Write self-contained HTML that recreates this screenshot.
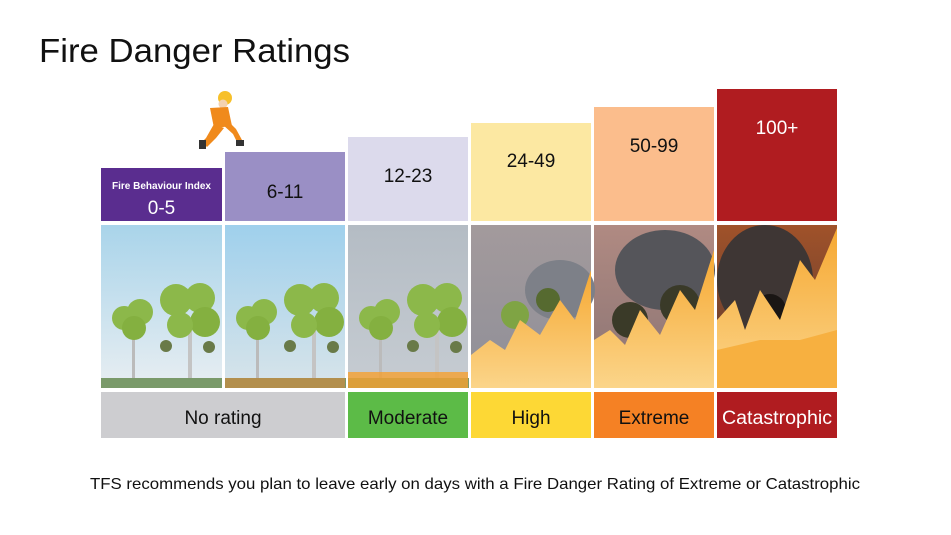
<!DOCTYPE html>
<html><head><meta charset="utf-8"><style>
html,body{margin:0;padding:0;background:#fff;width:951px;height:535px;overflow:hidden}
svg{display:block}
text{font-family:"Liberation Sans",Arial,sans-serif}
</style></head><body>
<svg width="951" height="535" viewBox="0 0 951 535" xmlns="http://www.w3.org/2000/svg">
<defs>
<linearGradient id="s1" x1="0" y1="0" x2="0" y2="1"><stop offset="0" stop-color="#a9d4ea"/><stop offset="1" stop-color="#e8eef2"/></linearGradient>
<linearGradient id="s2" x1="0" y1="0" x2="0" y2="1"><stop offset="0" stop-color="#9fd0ec"/><stop offset="1" stop-color="#d8e4ea"/></linearGradient>
<linearGradient id="s3" x1="0" y1="0" x2="0" y2="1"><stop offset="0" stop-color="#b4bcc4"/><stop offset="1" stop-color="#c6ccd2"/></linearGradient>
<linearGradient id="s4" x1="0" y1="0" x2="0" y2="1"><stop offset="0" stop-color="#a39a9c"/><stop offset="1" stop-color="#8f8f98"/></linearGradient>
<linearGradient id="s5" x1="0" y1="0" x2="0" y2="1"><stop offset="0" stop-color="#b08a82"/><stop offset="1" stop-color="#8a7474"/></linearGradient>
<linearGradient id="s6" x1="0" y1="0" x2="0" y2="1"><stop offset="0" stop-color="#a0522a"/><stop offset="1" stop-color="#5a3a30"/></linearGradient>
<linearGradient id="fire" x1="0" y1="0" x2="0" y2="1"><stop offset="0" stop-color="#f6a832"/><stop offset="1" stop-color="#fbd58a"/></linearGradient>
</defs>
<text x="39" y="62" font-size="33" fill="#111" textLength="311" lengthAdjust="spacingAndGlyphs">Fire Danger Ratings</text>

<!-- top boxes -->
<rect x="101" y="168" width="121" height="53" fill="#5a2d8f"/>
<text x="161.5" y="189" font-size="10" font-weight="bold" fill="#fff" text-anchor="middle">Fire Behaviour Index</text>
<text x="161.5" y="214" font-size="19" fill="#fff" text-anchor="middle">0-5</text>
<rect x="225" y="152" width="120" height="69" fill="#9a8fc5"/>
<text x="285" y="198" font-size="19" fill="#111" text-anchor="middle">6-11</text>
<rect x="348" y="137" width="120" height="84" fill="#dcdaec"/>
<text x="408" y="182" font-size="19" fill="#111" text-anchor="middle">12-23</text>
<rect x="471" y="123" width="120" height="98" fill="#fce8a2"/>
<text x="531" y="167" font-size="19" fill="#111" text-anchor="middle">24-49</text>
<rect x="594" y="107" width="120" height="114" fill="#fbbd8c"/>
<text x="654" y="152" font-size="19" fill="#111" text-anchor="middle">50-99</text>
<rect x="717" y="89" width="120" height="132" fill="#b01c20"/>
<text x="777" y="134" font-size="19" fill="#fff" text-anchor="middle">100+</text>

<!-- firefighter -->
<g>
<circle cx="225" cy="98" r="7" fill="#f7c02a"/>
<circle cx="223" cy="104" r="4.5" fill="#f4d2b0"/>
<path d="M210 108 L228 107 L232 126 L214 128 Z" fill="#f08a1c"/>
<path d="M214 124 L206 138 L202 142 L207 147 L216 138 L224 128 Z" fill="#f08a1c"/>
<path d="M222 124 L233 134 L237 142 L242 140 L236 129 L228 121 Z" fill="#f08a1c"/>
<rect x="199" y="140" width="7" height="9" fill="#333"/>
<rect x="236" y="140" width="8" height="6" fill="#333"/>
</g>

<!-- panels -->
<rect x="101" y="225" width="121" height="163" fill="url(#s1)"/>
<rect x="225" y="225" width="120" height="163" fill="url(#s2)"/>
<rect x="348" y="225" width="120" height="163" fill="url(#s3)"/>
<rect x="471" y="225" width="120" height="163" fill="url(#s4)"/>
<rect x="594" y="225" width="120" height="163" fill="url(#s5)"/>
<rect x="717" y="225" width="120" height="163" fill="url(#s6)"/>

<g id="trees">
<rect x="132" y="330" width="3" height="55" fill="#bbb"/>
<rect x="188" y="320" width="4" height="65" fill="#c4c4c4"/>
<circle cx="124" cy="318" r="12" fill="#8cb84a"/>
<circle cx="140" cy="312" r="13" fill="#8cb84a"/>
<circle cx="134" cy="328" r="12" fill="#84b040"/>
<circle cx="176" cy="300" r="16" fill="#8cb84a"/>
<circle cx="200" cy="298" r="15" fill="#8cb84a"/>
<circle cx="205" cy="322" r="15" fill="#84b040"/>
<circle cx="180" cy="325" r="13" fill="#8cb84a"/>
<circle cx="166" cy="346" r="6" fill="#697a48"/>
<circle cx="209" cy="347" r="6" fill="#697a48"/>
<rect x="101" y="378" width="121" height="10" fill="#7a9a6a"/>
</g>
<use href="#trees" x="124"/>
<use href="#trees" x="247"/>
<rect x="225" y="378" width="120" height="10" fill="#d8883a" opacity="0.6"/>
<rect x="348" y="372" width="120" height="16" fill="#f5a030" opacity="0.8"/>

<ellipse cx="560" cy="290" rx="35" ry="30" fill="#7d8088"/>
<circle cx="515" cy="315" r="14" fill="#7fa444"/>
<circle cx="548" cy="300" r="12" fill="#566a30"/>
<path d="M471 388 L471 355 L490 340 L505 350 L520 320 L540 335 L560 300 L575 320 L591 270 L591 388 Z" fill="url(#fire)"/>
<ellipse cx="665" cy="270" rx="50" ry="40" fill="#55555a"/>
<circle cx="630" cy="320" r="18" fill="#3a3a28"/>
<circle cx="680" cy="305" r="20" fill="#3a3a28"/>
<path d="M594 388 L594 340 L610 330 L625 345 L640 310 L660 335 L680 290 L695 310 L714 250 L714 388 Z" fill="url(#fire)"/>
<ellipse cx="765" cy="280" rx="48" ry="55" fill="#3e3634"/>
<circle cx="770" cy="310" r="16" fill="#1a1614"/>
<circle cx="805" cy="305" r="18" fill="#1a1614"/>
<path d="M717 388 L717 320 L735 300 L745 330 L760 290 L780 320 L800 260 L815 280 L837 228 L837 388 Z" fill="url(#fire)"/>
<path d="M717 388 L717 350 L760 340 L800 340 L837 330 L837 388 Z" fill="#f7b040"/>

<rect x="101" y="392" width="244" height="46" fill="#cdcdd0"/>
<text x="223" y="424" font-size="19" fill="#111" text-anchor="middle">No rating</text>
<rect x="348" y="392" width="120" height="46" fill="#5cbb47"/>
<text x="408" y="424" font-size="19" fill="#111" text-anchor="middle">Moderate</text>
<rect x="471" y="392" width="120" height="46" fill="#fdd835"/>
<text x="531" y="424" font-size="19" fill="#111" text-anchor="middle">High</text>
<rect x="594" y="392" width="120" height="46" fill="#f58124"/>
<text x="654" y="424" font-size="19" fill="#111" text-anchor="middle">Extreme</text>
<rect x="717" y="392" width="120" height="46" fill="#b01c20"/>
<text x="777" y="424" font-size="19" fill="#fff" text-anchor="middle" textLength="110" lengthAdjust="spacingAndGlyphs">Catastrophic</text>

<text x="90" y="489" font-size="16" fill="#111" textLength="770" lengthAdjust="spacingAndGlyphs">TFS recommends you plan to leave early on days with a Fire Danger Rating of Extreme or Catastrophic</text>
</svg>
</body></html>
